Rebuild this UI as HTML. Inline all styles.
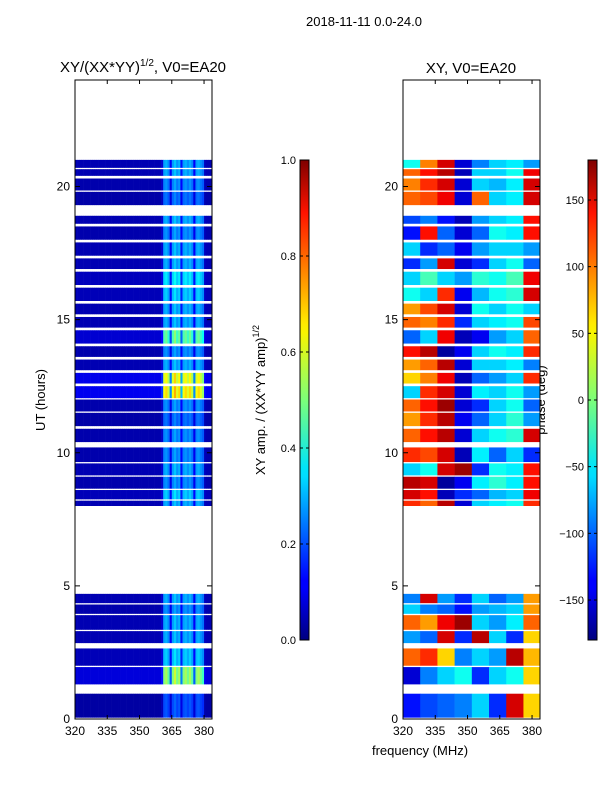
<!DOCTYPE html>
<html><head><meta charset="utf-8">
<style>
html,body{margin:0;padding:0;background:#fff;}
svg{display:block;font-family:"Liberation Sans",sans-serif;}
</style></head>
<body>
<svg id="fig" width="600" height="800" viewBox="0 0 600 800">
<defs>
<linearGradient id="jet" x1="0" y1="1" x2="0" y2="0">
<stop offset="0" stop-color="#00007f"/><stop offset="0.11" stop-color="#0000ff"/>
<stop offset="0.125" stop-color="#0000ff"/><stop offset="0.34" stop-color="#00dcff"/>
<stop offset="0.36" stop-color="#00e4f8"/><stop offset="0.5" stop-color="#7cff79"/>
<stop offset="0.64" stop-color="#f8f500"/><stop offset="0.66" stop-color="#ffea00"/>
<stop offset="0.89" stop-color="#ff1300"/><stop offset="1" stop-color="#7f0000"/>
</linearGradient>
</defs>
<text x="364" y="26" font-size="13" text-anchor="middle">2018-11-11 0.0-24.0</text>
<text x="143" y="72" font-size="15" text-anchor="middle">XY/(XX*YY)<tspan font-size="10" dy="-6">1/2</tspan><tspan dy="6">, V0=EA20</tspan></text>
<text x="471" y="73" font-size="15" text-anchor="middle">XY, V0=EA20</text>
<text transform="translate(45,400) rotate(-90)" font-size="13" text-anchor="middle">UT (hours)</text>
<text x="420" y="755" font-size="13" text-anchor="middle">frequency (MHz)</text>
<text transform="translate(265,400) rotate(-90)" font-size="13" text-anchor="middle">XY amp. / (XX*YY amp)<tspan font-size="9" dy="-6">1/2</tspan></text>
<text transform="translate(545,400) rotate(-90)" font-size="13" text-anchor="middle">phase (deg)</text>
<g id="left"></g>
<g id="right"></g>
<g id="cb1"></g>
<g id="cb2"></g>
</svg>
<script>
// ---- data ----
const rowStart=[0.05,1.3,2.0,2.85,3.35,3.95,4.35,8.0,8.25,8.65,9.15,9.65,10.4,11.0,11.55,12.05,12.6,13.1,13.6,14.1,14.7,15.2,15.7,16.3,16.9,17.4,18.0,18.6,19.3,19.85,20.4,20.7];
const rowEnd  =[0.95,1.95,2.65,3.3,3.9,4.3,4.7,8.2,8.6,9.1,9.6,10.2,10.9,11.5,12.0,12.5,13.0,13.5,14.0,14.6,15.1,15.6,16.2,16.8,17.3,17.9,18.5,18.9,19.8,20.3,20.65,21.0];
// amplitude channel profile, 1 MHz channels 320..384
const ampChan=[0.05,0.05,0.05,0.05,0.05,0.05,0.05,0.05,0.05,0.05,
0.05,0.05,0.05,0.05,0.05,0.05,0.05,0.05,0.05,0.05,
0.05,0.05,0.05,0.05,0.05,0.05,0.05,0.05,0.05,0.05,
0.05,0.05,0.05,0.05,0.05,0.05,0.05,0.05,0.05,0.05,
0.08,0.28,0.3,0.26,0.12,0.28,0.32,0.27,0.3,0.14,
0.28,0.3,0.27,0.3,0.26,0.12,0.28,0.3,0.27,0.24,
0.06,0.05,0.05,0.05];
const ampGain=[0.7,1.8,1.1,1.0,1.0,0.9,1.0,1.0,1.1,0.9,1.0,0.9,0.9,0.8,0.9,2.2,2.1,1.0,0.9,1.6,1.0,1.0,1.1,1.2,1.0,1.0,0.9,1.0,0.8,0.9,1.0,1.0];
// phase (deg), 8 MHz bins 320..384, per row
const phase=[
[-130,-110,-100,-90,-60,-120,150,60],
[-150,-90,-60,-40,-120,-60,-40,60],
[100,120,60,-90,-60,-80,160,70],
[-80,-100,150,-120,160,-60,-120,60],
[100,80,140,170,-60,-80,-50,100],
[-60,-90,-100,-130,-80,-70,-60,80],
[-90,150,-80,-120,-60,-100,-80,80],
[120,100,160,-150,-60,-50,-40,120],
[150,130,-160,-120,-100,-70,-60,140],
[160,150,-170,-140,-50,-30,-50,130],
[-60,-40,150,170,-120,-40,-50,130],
[120,110,150,-160,-50,-100,-60,-120],
[100,130,160,-150,-60,-40,-30,150],
[80,120,160,-140,-100,-60,-30,-80],
[100,130,170,-150,-120,-60,-40,-100],
[-60,120,150,-150,-50,-60,-40,-80],
[60,90,140,-160,-100,-80,-60,120],
[80,100,160,-150,-60,-60,-50,-90],
[130,160,-170,-140,-60,-40,-50,120],
[-100,-60,140,-160,-140,-80,-60,100],
[100,90,120,-120,-60,-50,-40,110],
[80,110,150,-150,-40,-60,-40,-60],
[-40,-60,120,-140,-70,-40,-30,150],
[-60,-20,-60,-80,-30,-40,-20,140],
[-120,-80,150,-150,-120,-60,-40,-100],
[-60,-120,-100,-140,-80,-60,-60,-80],
[-130,130,-100,-150,-100,-40,-50,130],
[-110,-90,-130,-160,-80,-60,-50,130],
[100,110,140,-150,100,-60,-50,150],
[90,120,150,-150,-60,-70,-50,150],
[100,130,160,-160,-60,-60,-40,140],
[-40,90,150,-150,-90,-60,-50,-80]];
const ampTicks=[0,0.2,0.4,0.6,0.8,1.0];
const phaseTicks=[-150,-100,-50,0,50,100,150];
const xTicks=[320,335,350,365,380];
const yTicks=[0,5,10,15,20];
// ---- scales ----
const Y0=719,Y1=80, yMax=24;
const yS=h=>Y0-(h/yMax)*(Y0-Y1);
const fMin=320,fMax=383.7;
function xS(f,x0){return x0+(f-fMin)/(fMax-fMin)*137;}
function jet(v){v=Math.max(0,Math.min(1,v));
 const c=t=>Math.round(255*Math.max(0,Math.min(1,1.5-Math.abs(4*v-t))));
 return `rgb(${c(3)},${c(2)},${c(1)})`;}
const NS='http://www.w3.org/2000/svg';
function el(tag,attrs,parent){const e=document.createElementNS(NS,tag);for(const k in attrs)e.setAttribute(k,attrs[k]);parent.appendChild(e);return e;}
function txt(parent,x,y,s,anchor){const t=el('text',{x:x,y:y,'font-size':12,'text-anchor':anchor},parent);t.textContent=s;return t;}

function panel(g,x0,kind){
 el('rect',{x:x0,y:Y1,width:137,height:Y0-Y1,fill:'#fff'},g);
 rowStart.forEach((s,r)=>{
  const y=yS(rowEnd[r]),h=yS(s)-y;
  if(kind==='amp'){
   ampChan.forEach((a,c)=>{
    const f0=320+c, x=xS(f0,x0), w=Math.min(xS(f0+1,x0),x0+137)-x;
    const cell=el('rect',{x:x,y:y,width:w+0.3,height:h,fill:jet(a*ampGain[r])},g);
    
    
   });
  } else {
   phase[r].forEach((p,c)=>{
    const f0=320+c*8, x=xS(f0,x0), w=Math.min(xS(f0+8,x0),x0+137)-x;
    const cell=el('rect',{x:x,y:y,width:w+0.3,height:h,fill:jet((p+180)/360)},g);
    
    
   });
  }
 });
 el('rect',{x:x0,y:Y1,width:137,height:Y0-Y1,fill:'none',stroke:'#000','stroke-width':1},g);
 xTicks.forEach(f=>{const x=xS(f,x0);
  el('line',{x1:x,x2:x,y1:Y0,y2:Y0-4,stroke:'#000'},g);
  el('line',{x1:x,x2:x,y1:Y1,y2:Y1+4,stroke:'#000'},g);
  const t=txt(g,x,Y0+16,String(f),'middle');
  
  
 });
 yTicks.forEach(v=>{const y=yS(v);
  el('line',{x1:x0,x2:x0+5,y1:y,y2:y,stroke:'#000'},g);
  el('line',{x1:x0+137,x2:x0+132,y1:y,y2:y,stroke:'#000'},g);
  const t=txt(g,x0-5,y+4,String(v),'end');
  
  
 });
}
panel(document.getElementById('left'),75,'amp');
panel(document.getElementById('right'),403,'phase');

function colorbar(g,x0,ticks,lo,hi,fmt){
 el('rect',{x:x0,y:160,width:9,height:480,fill:'url(#jet)',stroke:'#000','stroke-width':1},g);
 ticks.forEach(v=>{const y=640-(v-lo)/(hi-lo)*480;
  el('line',{x1:x0,x2:x0+3,y1:y,y2:y,stroke:'#000'},g);
  el('line',{x1:x0+9,x2:x0+6,y1:y,y2:y,stroke:'#000'},g);
  const t=el('text',{x:x0-4,y:y+4,'font-size':11,'text-anchor':'end'},g);
  t.textContent=fmt(v);
  
  
 });
}
colorbar(document.getElementById('cb1'),300,ampTicks,0,1,v=>v.toFixed(1));
colorbar(document.getElementById('cb2'),588,phaseTicks,-180,180,v=>v<0?'\u2212'+(-v):String(v));
</script>
</body></html>
